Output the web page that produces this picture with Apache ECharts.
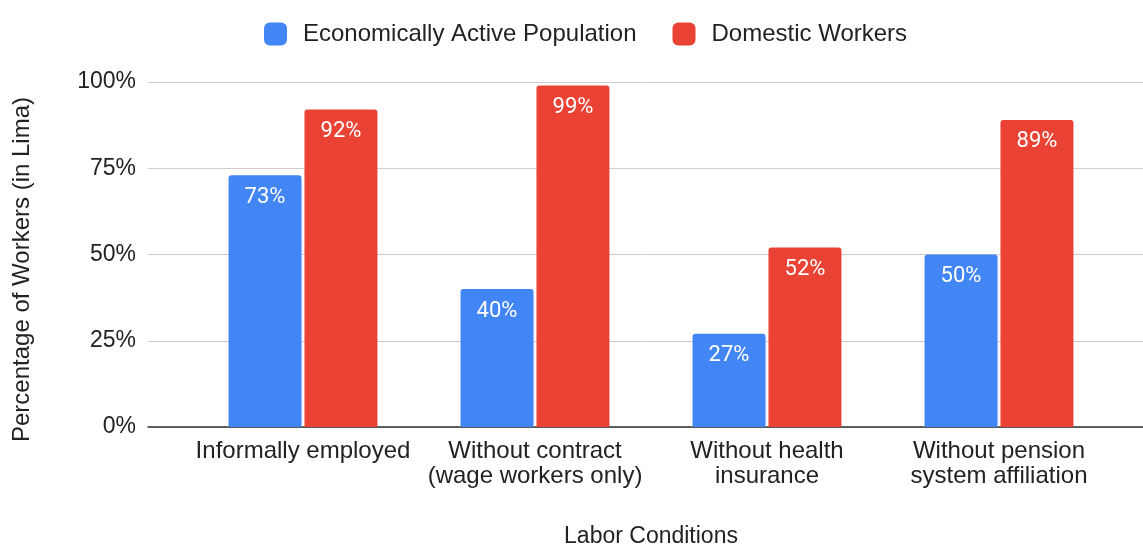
<!DOCTYPE html>
<html>
<head>
<meta charset="utf-8">
<script src="https://cdn.jsdelivr.net/npm/echarts@6/dist/echarts.min.js"></script>
<style>
  html, body { margin: 0; padding: 0; background: #fff; }
  #chart { width: 1143px; height: 546px; }
</style>
</head>
<body>
<div id="chart"></div>
<script>
// Labor conditions of workers in Lima (percent of workers)
const categories = [
  'Informally employed',
  'Without contract\n(wage workers only)',
  'Without health\ninsurance',
  'Without pension\nsystem affiliation'
];
const seriesNames = ['Economically Active Population', 'Domestic Workers'];
const activePopulation = [73, 40, 27, 50];
const domesticWorkers = [92, 99, 52, 89];
const yTicks = [0, 25, 50, 75, 100];

const FONT = '"Liberation Sans", Arial, sans-serif';
const TEXT = '#222';
const colors = ['#4285F4', '#EA4335'];

const chart = echarts.init(document.getElementById('chart'), null, { renderer: 'canvas' });

function barSeries(name, data, color) {
  return {
    name: name,
    type: 'bar',
    xAxisIndex: 1,
    yAxisIndex: 1,
    data: data,
    barWidth: 73,
    barGap: '4%',
    itemStyle: { color: color, borderRadius: [3, 3, 0, 0] },
    label: {
      show: true,
      position: 'insideTop',
      distance: 11,
      formatter: '{c}%',
      color: '#fff',
      fontFamily: 'Roboto, ' + FONT,
      fontWeight: 'normal',
      fontSize: 22
    }
  };
}

chart.setOption({
  backgroundColor: '#fff',
  animation: false,
  textStyle: { fontFamily: FONT },
  legend: {
    data: seriesNames,
    top: 17,
    left: 259,
    itemWidth: 23,
    itemHeight: 23,
    itemGap: 36,
    icon: 'roundRect',
    textStyle: { fontFamily: FONT, fontSize: 24, color: TEXT, padding: [0, 0, 0, 11] }
  },
  grid: [
    { left: 148, right: 0, top: 82, bottom: 119, outerBoundsMode: 'none' },
    { left: 187, right: 28, top: 82, bottom: 119, outerBoundsMode: 'none' }
  ],
  xAxis: [
    {
      type: 'category',
      gridIndex: 0,
      data: categories,
      axisLine: { lineStyle: { color: '#333', width: 1.5 } },
      axisTick: { show: false },
      axisLabel: { show: false }
    },
    {
      type: 'category',
      gridIndex: 1,
      data: categories,
      axisLine: { show: false },
      axisTick: { show: false },
      axisLabel: {
        interval: 0,
        margin: 12,
        fontFamily: FONT,
        fontSize: 24,
        color: TEXT,
        lineHeight: 25
      },
      name: 'Labor Conditions',
      nameLocation: 'middle',
      nameGap: 98,
      nameTextStyle: { fontFamily: FONT, fontSize: 23, color: TEXT }
    }
  ],
  yAxis: [
    {
      type: 'value',
      gridIndex: 0,
      min: yTicks[0],
      max: yTicks[yTicks.length - 1],
      interval: yTicks[1] - yTicks[0],
      axisLine: { show: false },
      axisTick: { show: false },
      splitLine: { lineStyle: { color: '#cccccc', width: 1 } },
      axisLabel: {
        margin: 12,
        formatter: '{value}%',
        fontFamily: FONT,
        fontSize: 23,
        color: TEXT
      },
      name: 'Percentage of Workers (in Lima)',
      nameLocation: 'middle',
      nameGap: 114,
      nameTextStyle: { fontFamily: FONT, fontSize: 24, color: TEXT, padding: [0, 30, 0, 0] }
    },
    {
      type: 'value',
      gridIndex: 1,
      min: yTicks[0],
      max: yTicks[yTicks.length - 1],
      interval: yTicks[1] - yTicks[0],
      show: false,
      splitLine: { show: false }
    }
  ],
  series: [
    barSeries(seriesNames[0], activePopulation, colors[0]),
    barSeries(seriesNames[1], domesticWorkers, colors[1])
  ]
});
</script>
</body>
</html>
